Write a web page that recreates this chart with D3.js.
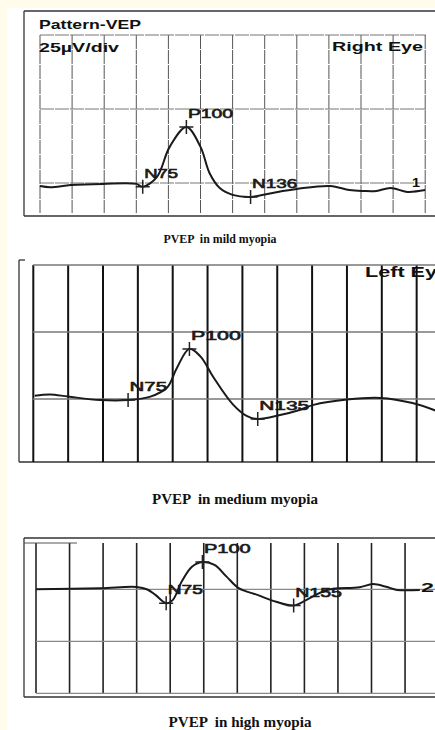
<!DOCTYPE html>
<html>
<head>
<meta charset="utf-8">
<script src="https://cdn.jsdelivr.net/npm/d3@7"></script>
<style>
	body { margin: 0; background: #fffcec; }
	svg { display: block; }
</style>
</head>
<body>
<div id="chart"></div>
<script>
// Pattern VEP traces, time in ms (25 ms/div), amplitude in µV (25 µV/div)

// mild myopia (right eye)
const mildTime = [0, 8, 24, 49, 75, 80, 91, 101, 114, 125, 132, 140, 150, 164, 177, 189, 200, 226, 241, 252, 262, 273, 286, 300];
const mildAmp  = [-1.0, -1.4, -0.7, -0.3, -0.3, -1.3, 2.0, 12.2, 18.9, 12.2, 3.4, -1.7, -4.0, -4.7, -3.7, -2.7, -2.0, -1.0, -2.4, -2.7, -2.7, -1.7, -3.0, -2.4];
const mildPeaks = ["N75", "P100", "N136"];
const mildPeakTime = [80, 114, 164];
const mildPeakAmp = [-1.3, 18.9, -4.7];

// medium myopia (left eye)
const mediumTime = [1, 12, 25, 48, 68, 84, 96, 103, 112, 120, 129, 143, 153, 161, 177, 191, 201, 225, 249, 272, 289];
const mediumAmp  = [1.2, 1.7, 0.9, -0.4, -0.4, 0.9, 4.3, 11.6, 18.7, 15.8, 8.3, -1.9, -6.3, -7.5, -6.0, -4.1, -2.2, -0.2, 0.4, -1.5, -4.4];
const mediumPeaks = ["N75", "P100", "N135"];
const mediumPeakTime = [68, 112, 161];
const mediumPeakAmp = [-0.4, 18.7, -7.5];

// high myopia
const highTime = [0, 48, 75, 83, 89, 97, 102, 108, 116, 124, 133, 142, 151, 165, 179, 192, 204, 217, 241, 251, 261, 269, 286];
const highAmp  = [0, 0.5, 1.1, -0.1, -2.7, -6.7, -5.1, 3.0, 10.7, 13.1, 11.7, 6.1, 0.6, -2.7, -6.0, -7.8, -4.2, -0.3, 1.0, 2.5, 1.2, -0.3, -0.3];
const highPeaks = ["N75", "P100", "N155"];
const highPeakTime = [97, 124, 192];
const highPeakAmp = [-6.7, 13.1, -7.8];

// grid ticks
const timeTicks = d3.range(0, 301, 25);
const mildAmpTicks = [50, 25, 0];
const mediumAmpTicks = [50, 25, 0];
const highAmpTicks = [0, -25, -50];

const captions = ["PVEP  in mild myopia", "PVEP  in medium myopia", "PVEP  in high myopia"];

const W = 435, H = 730;

const svg = d3.select("#chart").append("svg")
	.attr("width", W)
	.attr("height", H);

svg.append("rect").attr("width", W).attr("height", H).attr("fill", "#fffcec");
svg.append("rect").attr("x", 7).attr("y", 8).attr("width", W - 7).attr("height", H - 8).attr("fill", "#ffffff");

//layout of every scanned panel
const panels = [
	{
		time: mildTime, amp: mildAmp, peaks: mildPeaks, peakTime: mildPeakTime, peakAmp: mildPeakAmp,
		ampTicks: mildAmpTicks,
		x0: 40, xDiv: 32.1, y0: 183, yDiv: 74,
		gridTop: 35, gridBottom: 213, hLineX0: 40, hLineX1: 426,
		box: {left: 24, top: 11, bottom: 216, topLine: true},
		vStroke: "#555", vWidth: 1, vDash: "14,1", hStroke: "#777", hWidth: 1, hDash: "14,1",
		charW: 11.3,
		caption: {x: 220, y: 243, size: 12, len: 113}
	},
	{
		time: mediumTime, amp: mediumAmp, peaks: mediumPeaks, peakTime: mediumPeakTime, peakAmp: mediumPeakAmp,
		ampTicks: mediumAmpTicks,
		x0: 33.3, xDiv: 34.85, y0: 399, yDiv: 67,
		gridTop: 265, gridBottom: 462, hLineX0: 33, hLineX1: 435,
		box: {left: 19, top: 260, bottom: 462, topLine: false},
		vStroke: "#111", vWidth: 2, vDash: null, hStroke: "#777", hWidth: 1.4, hDash: null,
		charW: 12.5,
		caption: {x: 235, y: 504, size: 14, len: 166}
	},
	{
		time: highTime, amp: highAmp, peaks: highPeaks, peakTime: highPeakTime, peakAmp: highPeakAmp,
		ampTicks: highAmpTicks,
		x0: 36, xDiv: 33.55, y0: 589.3, yDiv: 52,
		gridTop: 543, gridBottom: 693, hLineX0: 36, hLineX1: 435,
		box: {left: 24, top: 538, bottom: 697, topLine: true},
		vStroke: "#222", vWidth: 1.6, vDash: null, hStroke: "#888", hWidth: 1.2, hDash: null,
		charW: 11.7,
		caption: {x: 240, y: 727, size: 15, len: 143}
	}
];

panels.forEach(function(p, i) {
	let g = svg.append("g").attr("class", "panel" + i);

	let x = d3.scaleLinear()
		.domain([0, 300])
		.range([p.x0, p.x0 + 12 * p.xDiv]);

	let y = d3.scaleLinear()
		.domain([0, 25])
		.range([p.y0, p.y0 - p.yDiv]);

	//outer frame of the print
	g.append("line")
		.attr("x1", p.box.left).attr("x2", p.box.left)
		.attr("y1", p.box.top).attr("y2", p.box.bottom)
		.attr("stroke", "#333").attr("stroke-width", 1.3);
	g.append("line")
		.attr("x1", p.box.left).attr("x2", W)
		.attr("y1", p.box.bottom).attr("y2", p.box.bottom)
		.attr("stroke", "#333").attr("stroke-width", 1.3);
	g.append("line")
		.attr("x1", p.box.left).attr("x2", p.box.topLine ? W : p.box.left + 6)
		.attr("y1", p.box.top).attr("y2", p.box.top)
		.attr("stroke", "#333").attr("stroke-width", 1.3);

	//vertical grid
	g.selectAll(".vgrid")
		.data(timeTicks.filter(function(t) { return x(t) <= W; }))
		.enter().append("line")
		.attr("class", "vgrid")
		.attr("x1", function(d) { return x(d); })
		.attr("x2", function(d) { return x(d); })
		.attr("y1", p.gridTop)
		.attr("y2", p.gridBottom)
		.attr("stroke", p.vStroke)
		.attr("stroke-width", p.vWidth)
		.attr("stroke-dasharray", p.vDash);

	//horizontal grid
	g.selectAll(".hgrid")
		.data(p.ampTicks)
		.enter().append("line")
		.attr("class", "hgrid")
		.attr("x1", p.hLineX0)
		.attr("x2", p.hLineX1)
		.attr("y1", function(d) { return y(d); })
		.attr("y2", function(d) { return y(d); })
		.attr("stroke", p.hStroke)
		.attr("stroke-width", p.hWidth)
		.attr("stroke-dasharray", p.hDash);

	//the trace
	let pts = p.time.map(function(t, j) { return [t, p.amp[j]]; });
	let line = d3.line()
		.x(function(d) { return x(d[0]); })
		.y(function(d) { return y(d[1]); })
		.curve(d3.curveCatmullRom.alpha(0.5));

	g.append("path")
		.attr("d", line(pts))
		.attr("fill", "none")
		.attr("stroke", "#1a1a1a")
		.attr("stroke-width", 2)
		.attr("stroke-linejoin", "round");

	//peak crosses and names
	let peak = g.selectAll(".peak")
		.data(p.peaks)
		.enter().append("g")
		.attr("class", "peak")
		.attr("transform", function(d, j) { return "translate(" + x(p.peakTime[j]) + "," + y(p.peakAmp[j]) + ")"; });

	peak.append("path")
		.attr("d", "M-7,0H7M0,-7V7")
		.attr("stroke", "#222")
		.attr("stroke-width", 1.5);

	peak.append("text")
		.attr("x", 1.5)
		.attr("y", -9)
		.attr("font-family", "Liberation Sans, Arial, sans-serif")
		.attr("font-size", 12.5)
		.attr("fill", "#1a1a1a")
		.attr("stroke", "#1a1a1a")
		.attr("stroke-width", 0.6)
		.attr("textLength", function(d) { return d.length * p.charW; })
		.attr("lengthAdjust", "spacingAndGlyphs")
		.text(function(d) { return d; });

	//caption under the print
	g.append("text")
		.attr("x", p.caption.x)
		.attr("y", p.caption.y)
		.attr("text-anchor", "middle")
		.attr("font-family", "Liberation Serif, Times New Roman, serif")
		.attr("font-weight", "bold")
		.attr("font-size", p.caption.size)
		.attr("fill", "#111")
		.attr("textLength", p.caption.len)
		.attr("lengthAdjust", "spacingAndGlyphs")
		.style("white-space", "pre")
		.text(captions[i]);
});

//header texts printed on the sheets
function boldLabel(txt, xPos, yPos, size, len) {
	return svg.append("text")
		.attr("x", xPos)
		.attr("y", yPos)
		.attr("font-family", "Liberation Sans, Arial, sans-serif")
		.attr("font-weight", "bold")
		.attr("font-size", size)
		.attr("fill", "#111")
		.attr("textLength", len)
		.attr("lengthAdjust", "spacingAndGlyphs")
		.text(txt);
}

boldLabel("Pattern-VEP", 39, 28.5, 12, 102);
boldLabel("25µV/div", 39, 52, 12.5, 80);
boldLabel("Right Eye", 332, 51, 13, 91);
boldLabel("1", 412, 187, 12, 8);
boldLabel("Left Eye", 365, 277, 14, 84);
boldLabel("2", 421, 592, 12.5, 13);

// little double rule at the top left of the last print
svg.append("line")
	.attr("x1", 24).attr("x2", 77)
	.attr("y1", 543).attr("y2", 543)
	.attr("stroke", "#555").attr("stroke-width", 1);
</script>
</body>
</html>
